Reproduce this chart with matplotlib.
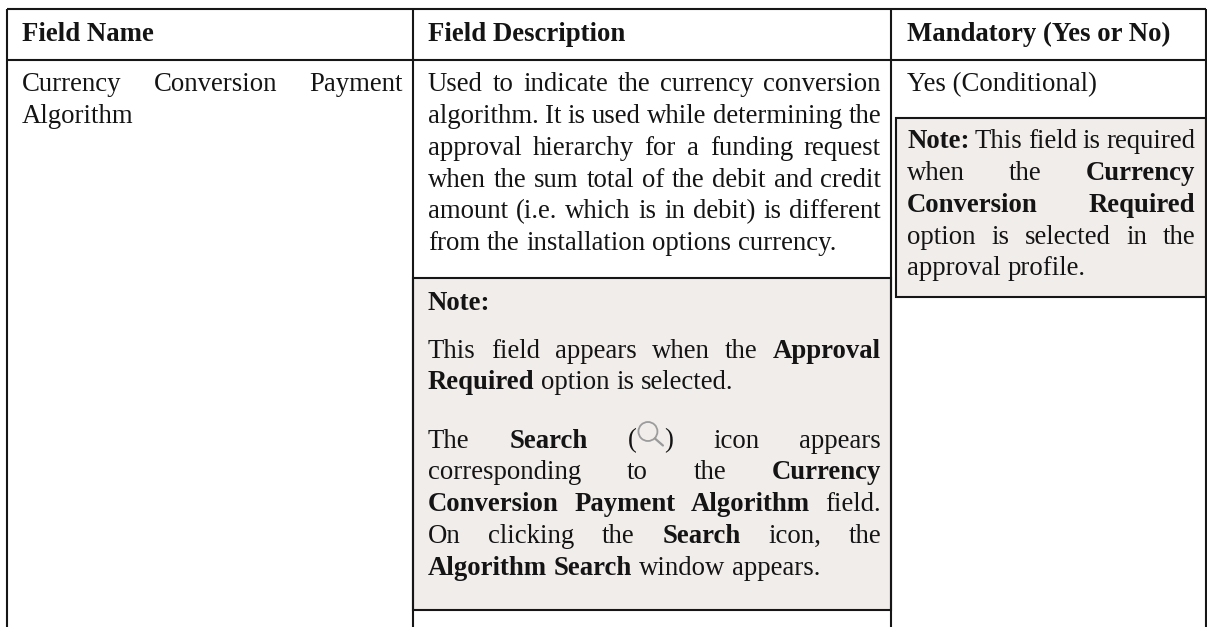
import matplotlib
matplotlib.use('Agg')  # headless
import matplotlib.pyplot as plt
from matplotlib.font_manager import FontProperties
from matplotlib.patches import Rectangle, Circle

# --- Table content. A leading * marks a bold word, (Q) is the search icon ---
HEADERS = ["Field Name", "Field Description", "Mandatory (Yes or No)"]

NAME_LINES = [
    "Currency Conversion Payment",
    "Algorithm",
]
DESC_LINES = [
    "Used to indicate the currency conversion",
    "algorithm. It is used while determining the",
    "approval hierarchy for a funding request",
    "when the sum total of the debit and credit",
    "amount (i.e. which is in debit) is different",
    "from the installation options currency.",
]
NOTE_TITLE = "Note:"
NOTE_PARA_1 = [
    "This field appears when the *Approval",
    "*Required option is selected.",
]
NOTE_PARA_2 = [
    "The *Search (Q) icon appears",
    "corresponding to the *Currency",
    "*Conversion *Payment *Algorithm field.",
    "On clicking the *Search icon, the",
    "*Algorithm *Search window appears.",
]
MANDATORY = "Yes (Conditional)"
SIDE_NOTE = [
    "*Note: This field is required",
    "when the *Currency",
    "*Conversion *Required",
    "option is selected in the",
    "approval profile.",
]

FONT_PX = 26.7
LINE_COLOR = '#161616'
TEXT_COLOR = '#141414'
NOTE_BG = '#f1edeb'
DPI = 100

plt.rcParams['font.family'] = ['Liberation Serif', 'DejaVu Serif']

fig = plt.figure(figsize=(12.07, 6.27), dpi=DPI)
ax = fig.add_axes([0, 0, 1, 1])
ax.set_xlim(0, 1207)
ax.set_ylim(627, 0)
ax.axis('off')
renderer = fig.canvas.get_renderer()

regular = FontProperties(family='Liberation Serif', size=FONT_PX * 72 / DPI)
bold = FontProperties(family='Liberation Serif', size=FONT_PX * 72 / DPI, weight='bold')


def word_width(word, is_bold=False):
    w, _, _ = renderer.get_text_width_height_descent(word, bold if is_bold else regular, False)
    return w


SPACE = word_width("n n") - word_width("nn")
ICON_TOKEN_WIDTH = 45


def draw_icon(x, baseline):
    # the ( magnifier ) token
    ax.text(x, baseline, "(", fontproperties=regular, color=TEXT_COLOR, va='baseline')
    ax.text(x + ICON_TOKEN_WIDTH, baseline, ")", fontproperties=regular, color=TEXT_COLOR,
            va='baseline', ha='right')
    cx, cy = x + 20, baseline - 16
    ax.add_patch(Circle((cx, cy), 9.5, fill=False, edgecolor='#9c9c9c', lw=1.3))
    ax.plot([cx + 7, cx + 15], [cy + 7, cy + 14], color='#9a9a9a', lw=1.6,
            solid_capstyle='round')


def draw_line(line, left, right, baseline, justify=True):
    tokens = []
    for word in line.split():
        if word == "(Q)":
            tokens.append((word, False, ICON_TOKEN_WIDTH))
        elif word.startswith("*"):
            tokens.append((word[1:], True, word_width(word[1:], True)))
        else:
            tokens.append((word, False, word_width(word)))
    gap = SPACE
    if justify and len(tokens) > 1:
        gap = (right - left - sum(t[2] for t in tokens)) / (len(tokens) - 1)
    x = left
    for word, is_bold, width in tokens:
        if word == "(Q)":
            draw_icon(x, baseline)
        else:
            ax.text(x, baseline, word, fontproperties=bold if is_bold else regular,
                    color=TEXT_COLOR, va='baseline')
        x += width + gap


def draw_block(lines, left, right, first_baseline, step=31.85):
    for i, line in enumerate(lines):
        # last line of a paragraph stays ragged
        draw_line(line, left, right, first_baseline + i * step, justify=i < len(lines) - 1)


# note boxes
ax.add_patch(Rectangle((413, 278), 478, 332, facecolor=NOTE_BG, edgecolor=LINE_COLOR, lw=1.5))
ax.add_patch(Rectangle((896, 118), 309.5, 179, facecolor=NOTE_BG, edgecolor=LINE_COLOR, lw=1.5))

# table rules
for x in [7, 413, 891, 1205.5]:
    ax.plot([x, x], [9, 627], color=LINE_COLOR, lw=1.5, solid_capstyle='butt')
for y in [9, 60]:
    ax.plot([7, 1205.5], [y, y], color=LINE_COLOR, lw=1.5, solid_capstyle='butt')

# header row
for text, x in zip(HEADERS, [22, 428, 907]):
    ax.text(x, 41, text, fontproperties=bold, color=TEXT_COLOR, va='baseline')

# first column
draw_block(NAME_LINES, 22, 403, 91)

# second column
draw_block(DESC_LINES, 428, 881, 91)
ax.text(428, 310, NOTE_TITLE, fontproperties=bold, color=TEXT_COLOR, va='baseline')
draw_block(NOTE_PARA_1, 428, 881, 357.5)
draw_block(NOTE_PARA_2, 428, 881, 447.5)

# third column
ax.text(907, 91, MANDATORY, fontproperties=regular, color=TEXT_COLOR, va='baseline')
draw_block(SIDE_NOTE, 907, 1195, 148)

fig.savefig('out.png', dpi=DPI, facecolor='white')
